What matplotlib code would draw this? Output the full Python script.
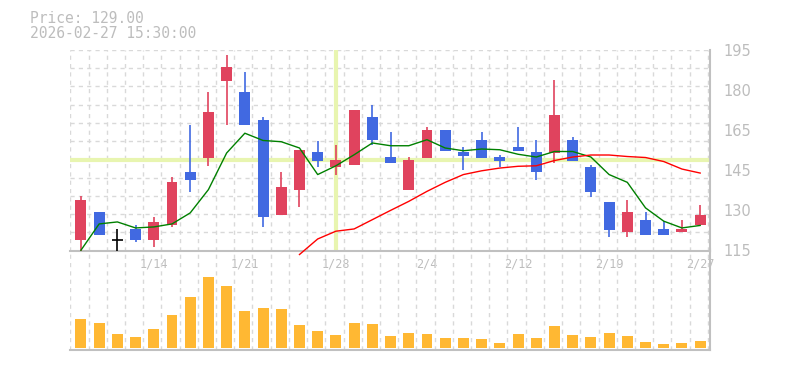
import matplotlib
matplotlib.use('Agg')
import matplotlib.pyplot as plt
import numpy as np

dates = ['1/7', '1/8', '1/9', '1/13', '1/14', '1/15', '1/16', '1/19', '1/20', '1/21',
         '1/22', '1/23', '1/26', '1/27', '1/28', '1/29', '1/30', '2/2', '2/3', '2/4',
         '2/5', '2/6', '2/9', '2/10', '2/12', '2/13', '2/16', '2/17', '2/18', '2/19',
         '2/20', '2/24', '2/25', '2/26', '2/27']
opens = [119.0, 130.5, 119.1, 123.4, 119.0, 125.0, 146.4, 152.1, 182.8, 178.3,
         167.1, 129.1, 139.0, 154.4, 148.2, 149.0, 168.3, 152.4, 139.0, 152.1,
         163.2, 154.5, 159.2, 152.4, 156.4, 154.4, 154.1, 159.2, 148.4, 134.5,
         122.3, 127.3, 123.4, 122.3, 125.0]
closes = [135.3, 121.0, 119.1, 119.0, 126.5, 142.5, 143.0, 170.3, 188.2, 164.9,
          128.3, 140.5, 155.2, 150.9, 151.2, 171.1, 158.9, 150.1, 151.2, 163.2,
          154.9, 152.9, 152.1, 150.9, 154.9, 146.2, 169.1, 150.9, 138.2, 123.1,
          130.5, 121.1, 121.1, 123.4, 129.0]
highs = [136.6, 130.5, 123.4, 125.3, 128.5, 144.5, 165.1, 178.3, 193.0, 186.2,
         168.3, 146.4, 155.2, 158.5, 157.2, 171.1, 173.1, 162.4, 152.5, 164.2,
         163.2, 156.4, 162.4, 153.2, 164.4, 159.2, 183.1, 160.4, 149.2, 134.5,
         135.3, 130.5, 126.7, 127.3, 133.3]
lows = [115.0, 121.0, 115.0, 118.3, 116.3, 124.3, 138.2, 148.8, 164.9, 164.9,
        124.3, 129.1, 132.2, 148.2, 145.0, 149.0, 156.9, 150.1, 139.0, 152.1,
        154.9, 147.0, 152.1, 148.2, 154.9, 143.0, 150.1, 150.9, 136.2, 120.3,
        120.3, 121.1, 121.1, 122.3, 125.0]
ma_short = [115.1, 125.6, 126.4, 124.0, 124.4, 125.6, 130.0, 139.3, 153.9, 161.8,
            158.9, 158.4, 155.9, 145.3, 148.8, 153.2, 157.9, 156.8, 156.8, 159.2,
            155.9, 154.8, 155.5, 155.2, 153.4, 152.3, 154.5, 154.5, 152.3, 145.3,
            142.2, 132.0, 126.7, 124.0, 125.0]
ma_long = [np.nan] * 12 + [113.4, 119.6, 122.7, 123.6, 127.3, 131.0, 134.6, 138.6,
                           142.2, 145.3, 146.8, 147.9, 148.6, 148.8, 150.9, 152.3,
                           153.1, 153.1, 152.5, 152.1, 150.5, 147.5, 145.9]
volumes = [86, 74, 41, 32, 56, 98, 152, 212, 185, 110, 119, 116, 68, 50, 38, 74, 71, 35,
           44, 41, 29, 29, 26, 14, 41, 29, 65, 38, 32, 44, 35, 17, 11, 14, 20]
ytick_labels = ['115', '130', '145', '165', '180', '195']
price_text = 'Price: 129.00'
time_text = '2026-02-27 15:30:00'
cross_idx = 14
cross_price = 151.2

UP = '#e0435e'
DOWN = '#4169e1'
GRID = '#d9d9d9'
AXIS = '#c0c0c0'
TXT = '#bdbdbd'
CROSS = '#e8f5b0'

x = np.arange(len(dates))
opens = np.array(opens)
closes = np.array(closes)
highs = np.array(highs)
lows = np.array(lows)

fig = plt.figure(figsize=(7.85, 3.7), dpi=100)
ax = fig.add_axes([70 / 785, (370 - 250.5) / 370, 640 / 785, 200.5 / 370])
axv = fig.add_axes([70 / 785, 20 / 370, 640 / 785, 100.5 / 370])
axv.patch.set_visible(False)

xlim = (-0.6, 34.54)
vgrid = np.arange(-1, len(dates)) + 0.42

# price panel
ax.set_xlim(*xlim)
ax.set_ylim(115, 195)
for g in np.linspace(115, 195, 12)[1:]:
    ax.axhline(g, color=GRID, lw=1, ls=(0, (3, 3)), zorder=0)
for g in vgrid:
    ax.axvline(g, color=GRID, lw=1, ls=(0, (3, 3)), zorder=0)

ax.axvline(cross_idx, color=CROSS, lw=3, zorder=1)
ax.axhline(cross_price, color=CROSS, lw=3, zorder=1)

colors = []
for o, c in zip(opens, closes):
    if c > o:
        colors.append(UP)
    elif c < o:
        colors.append(DOWN)
    else:
        colors.append('black')

ax.vlines(x, lows, highs, colors=colors, lw=1.2, zorder=3)
ax.bar(x, np.abs(closes - opens), bottom=np.minimum(opens, closes), width=0.6,
       color=colors, zorder=3)
for i in x:
    if opens[i] == closes[i]:
        ax.hlines(opens[i], i - 0.3, i + 0.3, colors='black', lw=1.2, zorder=3)

ax.plot(x, ma_short, color='green', lw=1, zorder=4)
ax.plot(x, ma_long, color='red', lw=1, zorder=4, clip_on=False)

ax.set_yticks(np.linspace(115, 195, 6))
ax.set_yticklabels(ytick_labels)
ax.yaxis.tick_right()
ax.tick_params(axis='y', length=0, pad=10, labelsize=10.5, labelcolor=TXT)
for t in ax.get_yticklabels():
    t.set_family('DejaVu Sans')
    t.set_verticalalignment('center_baseline')

ax.set_xticks(x[4::5])
ax.set_xticklabels(dates[4::5])
ax.tick_params(axis='x', length=0, pad=5, labelsize=8.5, labelcolor=TXT)
for t in ax.get_xticklabels():
    t.set_family('DejaVu Sans Mono')

for s in ['top', 'left']:
    ax.spines[s].set_visible(False)
for s in ['bottom', 'right']:
    ax.spines[s].set_color(AXIS)
    ax.spines[s].set_linewidth(1.5)

# volume panel
axv.set_xlim(*xlim)
vmax = max(volumes)
axv.set_ylim(-vmax * 2.3 / 70.7, vmax * 97.7 / 70.7)
for g in vgrid:
    axv.axvline(g, color=GRID, lw=1, ls=(0, (3, 3)), zorder=0)
axv.bar(x, volumes, width=0.6, color='#ffb833', zorder=2)
axv.set_xticks([])
axv.set_yticks([])
for s in ['top', 'left']:
    axv.spines[s].set_visible(False)
for s in ['bottom', 'right']:
    axv.spines[s].set_color(AXIS)
    axv.spines[s].set_linewidth(1.5)

fig.text(30 / 785, 1 - 18.5 / 370, price_text, family='DejaVu Sans Mono', fontsize=10.5,
         color=TXT, va='center', ha='left')
fig.text(30 / 785, 1 - 34 / 370, time_text, family='DejaVu Sans Mono', fontsize=10.5,
         color=TXT, va='center', ha='left')

fig.savefig('out.png', dpi=100)
